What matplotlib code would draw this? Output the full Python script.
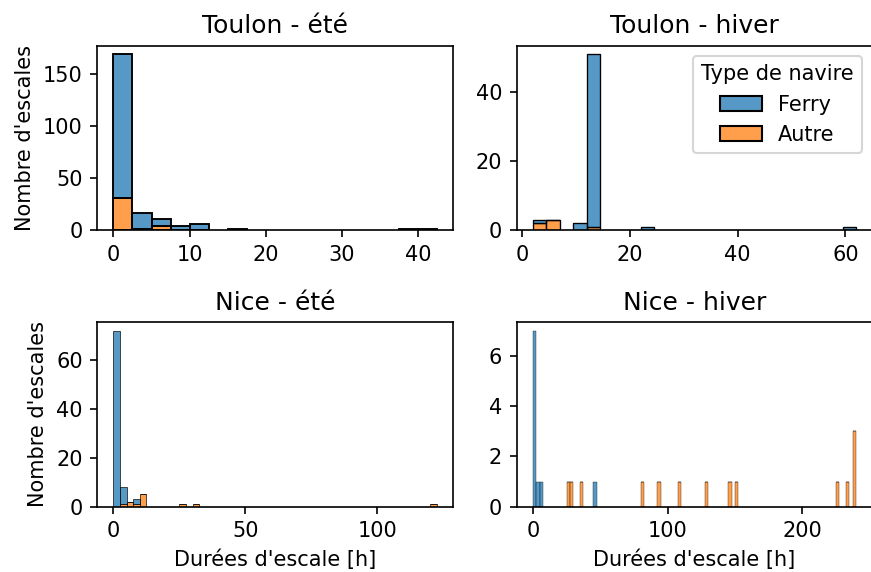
import numpy as np
import matplotlib
matplotlib.use("Agg")
import matplotlib.pyplot as plt
from matplotlib.patches import Patch
from matplotlib.colors import to_rgba

# ---- data (histogram bins: left edges of non-empty bins, width BINW) ----
BINW = 2.5
hue_levels = ["Ferry", "Autre"]

toulon_ete_left = [0, 2.5, 5, 7.5, 10, 15, 37.5, 40]
toulon_ete_ferry = [138, 15, 7, 4, 6, 1, 1, 1]
toulon_ete_autre = [31, 1, 4, 0, 0, 0, 0, 0]

toulon_hiver_left = [2, 4.5, 9.5, 12, 22, 59.5]
toulon_hiver_ferry = [1, 0, 2, 50, 1, 1]
toulon_hiver_autre = [2, 3, 0, 1, 0, 0]

nice_ete_left = [0, 2.5, 5, 7.5, 10, 25, 30, 120]
nice_ete_ferry = [72, 7, 0, 2, 0, 0, 0, 0]
nice_ete_autre = [0, 1, 2, 1, 5, 1, 1, 1]

nice_hiver_left = [0, 2.5, 5, 25, 27.5, 35, 45, 80, 92.5, 107.5, 127.5,
                   145, 150, 225, 232.5, 237.5]
nice_hiver_ferry = [7, 1, 1, 0, 0, 0, 1, 0, 0, 0, 0, 0, 0, 0, 0, 0]
nice_hiver_autre = [0, 0, 0, 1, 1, 1, 0, 1, 1, 1, 1, 1, 1, 1, 1, 3]

titles = ["Toulon - été", "Toulon - hiver", "Nice - été", "Nice - hiver"]
ylabel = "Nombre d'escales"
xlabel = "Durées d'escale [h]"
legend_title = "Type de navire"

panels = [
    (toulon_ete_left, toulon_ete_ferry, toulon_ete_autre),
    (toulon_hiver_left, toulon_hiver_ferry, toulon_hiver_autre),
    (nice_ete_left, nice_ete_ferry, nice_ete_autre),
    (nice_hiver_left, nice_hiver_ferry, nice_hiver_autre),
]

colors = {"Ferry": "#1f77b4", "Autre": "#ff7f0e"}
ALPHA = 0.75

W, H, DPI = 871, 572, 150
fig = plt.figure(figsize=(W / DPI, H / DPI), dpi=DPI)

axw = (453 - 97.3) / W
axh = 184.5 / H
lefts = [97.3 / W, 516.7 / W]
bottoms = [1 - 230 / H, 1 - 506.7 / H]

axes = []
for i, (left, ferry, autre) in enumerate(panels):
    r, c = divmod(i, 2)
    ax = fig.add_axes([lefts[c], bottoms[r], axw, axh])
    axes.append(ax)
    left = np.asarray(left, float)
    ferry = np.asarray(ferry, float)
    autre = np.asarray(autre, float)
    bars_a = ax.bar(left, autre, BINW, align="edge",
                    facecolor=to_rgba(colors["Autre"], ALPHA), edgecolor="black")
    bars_f = ax.bar(left, ferry, BINW, bottom=autre, align="edge",
                    facecolor=to_rgba(colors["Ferry"], ALPHA), edgecolor="black")
    ax.set_title(titles[i], fontsize=12)
    if c == 0:
        ax.set_ylabel(ylabel)
    if r == 1:
        ax.set_xlabel(xlabel)
    ax.autoscale_view()
    # seaborn-like linewidth scaling with bar width
    p0 = ax.transData.transform([0, 0])
    p1 = ax.transData.transform([BINW, 0])
    bw_pts = abs(p1[0] - p0[0]) * 72 / DPI
    lw = min(0.1 * bw_pts, 1.0)
    for b in list(bars_a) + list(bars_f):
        b.set_linewidth(lw)

handles = [Patch(facecolor=to_rgba(colors[h], ALPHA), edgecolor="black",
                 linewidth=1.0, label=h) for h in hue_levels]
axes[1].legend(handles=handles, title=legend_title, loc="upper right")

fig.savefig("out.png", dpi=DPI)
